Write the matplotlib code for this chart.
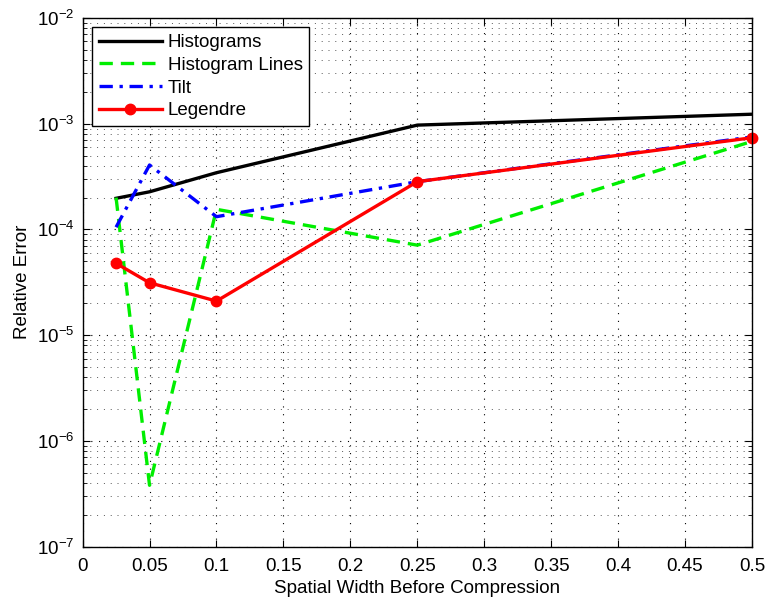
import matplotlib
matplotlib.use("Agg")
import matplotlib.pyplot as plt
from matplotlib.ticker import LogLocator, NullFormatter

plt.rcParams['font.family'] = ['Liberation Sans', 'DejaVu Sans']
plt.rcParams['mathtext.fontset'] = 'custom'
plt.rcParams['mathtext.rm'] = 'Liberation Sans'

# values
widths = [0.025, 0.05, 0.1, 0.25, 0.5]
histograms = [1.97e-4, 2.27e-4, 3.44e-4, 9.7e-4, 1.23e-3]
histogram_lines = [2.0e-4, 3.8e-7, 1.55e-4, 7.1e-5, 6.8e-4]
tilt = [1.05e-4, 4.07e-4, 1.32e-4, 2.83e-4, 7.5e-4]
legendre = [4.78e-5, 3.13e-5, 2.1e-5, 2.83e-4, 7.37e-4]
x_ticks = [0, 0.05, 0.1, 0.15, 0.2, 0.25, 0.3, 0.35, 0.4, 0.45, 0.5]
x_tick_labels = ['0', '0.05', '0.1', '0.15', '0.2', '0.25', '0.3',
                 '0.35', '0.4', '0.45', '0.5']

fs = 13.5
fig = plt.figure(figsize=(7.72, 6.0), dpi=100)
ax = fig.add_axes([0.107, 0.089, 0.867, 0.881])

ax.semilogy(widths, histograms, '-', color='black', lw=2.4, label='Histograms')
ax.semilogy(widths, histogram_lines, '--', color='#00ee00', lw=2.4,
            dashes=(4, 2.4), label='Histogram Lines')
ax.semilogy(widths, tilt, '-.', color='#0000ff', lw=2.4,
            dashes=(4, 2, 1, 2), label='Tilt')
ax.semilogy(widths, legendre, '-', color='#ff0000', lw=2.4, marker='o',
            markersize=7.5, label='Legendre', clip_on=False)

ax.set_xlim(0, 0.5)
ax.set_ylim(1e-7, 1e-2)
ax.set_xticks(x_ticks)
ax.set_xticklabels(x_tick_labels)
ax.yaxis.set_major_locator(LogLocator(base=10, numticks=10))
ax.yaxis.set_minor_locator(LogLocator(base=10, subs=range(2, 10), numticks=20))
ax.yaxis.set_minor_formatter(NullFormatter())

ax.grid(True, which='major', ls=(0, (1, 6)), color='black', lw=0.8)
ax.grid(True, which='minor', axis='y', ls=(0, (1, 6)), color='#555555', lw=0.7)
ax.tick_params(which='both', direction='in', top=True, right=True,
               labelsize=fs)
ax.tick_params(axis='x', pad=8)
ax.tick_params(axis='y', pad=6)
ax.tick_params(which='major', length=5)
ax.tick_params(which='minor', length=3)
for s in ax.spines.values():
    s.set_linewidth(1.0)

ax.set_xlabel('Spatial Width Before Compression', fontsize=fs, labelpad=4)
ax.set_ylabel('Relative Error', fontsize=fs, labelpad=4)

leg = ax.legend(loc='upper left', fontsize=fs, fancybox=False, framealpha=1,
                edgecolor='black', handlelength=3.4, handletextpad=0.3,
                borderpad=0.35, labelspacing=0.3, borderaxespad=0.5)
leg.get_frame().set_linewidth(1.0)

fig.savefig('out.png', dpi=100)
